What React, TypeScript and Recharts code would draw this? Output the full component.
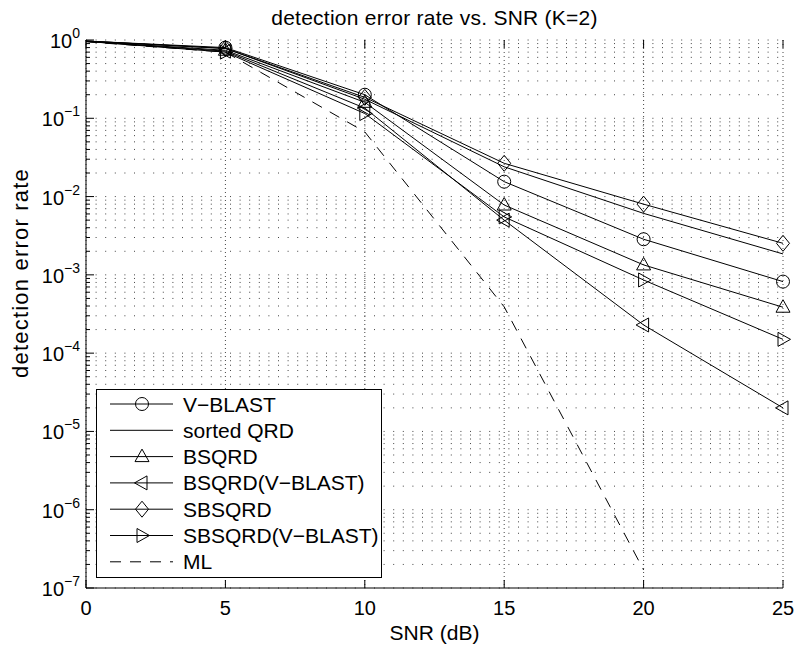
import { LineChart, Line, XAxis, YAxis, CartesianGrid, Legend } from "recharts"

// SNR points (dB)
const snr = [0, 5, 10, 15, 20, 25]

// detection error rate per detector
const vblast = [0.97, 0.8, 0.2, 0.0155, 0.00285, 0.00082]
const sortedQrd = [0.97, 0.78, 0.175, 0.024, 0.0061, 0.00185]
const bsqrd = [0.96, 0.74, 0.16, 0.0078, 0.00134, 0.000386]
const bsqrdVblast = [0.96, 0.72, 0.135, 0.005, 0.000229, 0.00002]
const sbsqrd = [0.97, 0.78, 0.185, 0.0266, 0.008, 0.00253]
const sbsqrdVblast = [0.96, 0.7, 0.115, 0.0055, 0.00086, 0.00015]
const ml = [0.95, 0.7, 0.067, 0.00039, 1.7e-7, null]

const xTicks = [0, 5, 10, 15, 20, 25]
const yDecades = [1e-7, 1e-6, 1e-5, 1e-4, 1e-3, 1e-2, 1e-1, 1]
const yExponents = ["−7", "−6", "−5", "−4", "−3", "−2", "−1", "0"]
const minorSteps = [2, 3, 4, 5, 6, 7, 8, 9]

const yTicks: number[] = []
yDecades.forEach((d, i) => {
  yTicks.push(d)
  if (i < yDecades.length - 1) minorSteps.forEach((m) => yTicks.push(Number((m * d).toPrecision(3))))
})

const series = [
  { key: "vblast", name: "V−BLAST", values: vblast, marker: "circle" },
  { key: "sorted", name: "sorted QRD", values: sortedQrd, marker: "none" },
  { key: "bsqrd", name: "BSQRD", values: bsqrd, marker: "up" },
  { key: "bsqrdV", name: "BSQRD(V−BLAST)", values: bsqrdVblast, marker: "left" },
  { key: "sbsqrd", name: "SBSQRD", values: sbsqrd, marker: "diamond" },
  { key: "sbsqrdV", name: "SBSQRD(V−BLAST)", values: sbsqrdVblast, marker: "right" },
  { key: "ml", name: "ML", values: ml, marker: "none", dashed: true },
]

const data = snr.map((s, i) => {
  const row: any = { snr: s }
  series.forEach((ser) => (row[ser.key] = ser.values[i]))
  return row
})

const FONT = "'Liberation Sans', Arial, Helvetica, sans-serif"

function Marker({ kind, cx, cy }: { kind: string; cx: number; cy: number }) {
  const p = { fill: "none", stroke: "#000", strokeWidth: 1 }
  if (kind === "circle") return <circle cx={cx} cy={cy} r={6.5} {...p} />
  if (kind === "up")
    return <polygon points={`${cx},${cy - 7.5} ${cx + 7},${cy + 5} ${cx - 7},${cy + 5}`} {...p} />
  if (kind === "left")
    return <polygon points={`${cx - 7.5},${cy} ${cx + 5},${cy - 7} ${cx + 5},${cy + 7}`} {...p} />
  if (kind === "right")
    return <polygon points={`${cx + 7.5},${cy} ${cx - 5},${cy - 7} ${cx - 5},${cy + 7}`} {...p} />
  if (kind === "diamond")
    return <polygon points={`${cx},${cy - 8} ${cx + 6.5},${cy} ${cx},${cy + 8} ${cx - 6.5},${cy}`} {...p} />
  return null
}

const isMajor = (v: number) => Math.abs(Math.log10(v) - Math.round(Math.log10(v))) < 1e-6

function LeftTick(props: any) {
  const { x, y, payload } = props
  const major = isMajor(payload.value)
  const idx = yDecades.findIndex((d) => Math.abs(Math.log10(d) - Math.log10(payload.value)) < 1e-6)
  return (
    <g>
      <line x1={x} x2={x + (major ? 8 : 4)} y1={y} y2={y} stroke="#000" />
      {major && idx >= 0 && (
        <text x={x - 6} y={y + 8} textAnchor="end" fontFamily={FONT} fontSize={20} fill="#000">
          <tspan>10</tspan>
          <tspan dy={-10} fontSize={14}>{yExponents[idx]}</tspan>
        </text>
      )}
    </g>
  )
}

function RightTick(props: any) {
  const { x, y, payload } = props
  const major = isMajor(payload.value)
  return <line x1={x} x2={x - (major ? 8 : 4)} y1={y} y2={y} stroke="#000" />
}

function BottomTick(props: any) {
  const { x, y, payload } = props
  return (
    <g>
      <line x1={x} x2={x} y1={y} y2={y - 8} stroke="#000" />
      <line x1={x} x2={x} y1={y - 548} y2={y - 540} stroke="#000" />
      <text x={x} y={y + 27} textAnchor="middle" fontFamily={FONT} fontSize={20} fill="#000">
        {payload.value}
      </text>
    </g>
  )
}

function LegendBox() {
  const rowH = 26.3
  return (
    <div style={{ width: 286, height: 189, border: "1px solid #000", background: "#fff", boxSizing: "border-box" }}>
      <svg width={284} height={187}>
        {series.map((s, i) => {
          const cy = 14 + i * rowH
          return (
            <g key={s.key}>
              <line x1={13} x2={76} y1={cy} y2={cy} stroke="#000" strokeDasharray={s.dashed ? "11 9" : undefined} />
              <Marker kind={s.marker} cx={45} cy={cy} />
              <text x={86} y={cy + 7.5} fontFamily={FONT} fontSize={21} fill="#000">
                {s.name}
              </text>
            </g>
          )
        })}
      </svg>
    </div>
  )
}

export default function App() {
  return (
    <div style={{ position: "absolute", left: 0, top: 0, background: "#fff" }}>
      <LineChart width={796} height={648} data={data} margin={{ top: 40, right: 13, bottom: 30, left: 26 }}>
        <CartesianGrid vertical={false} stroke="#444" strokeDasharray="1 8.6" />
        <CartesianGrid horizontal={false} stroke="#444" strokeDasharray="1 3" />
        <XAxis
          dataKey="snr"
          type="number"
          domain={[0, 25]}
          ticks={xTicks}
          interval={0}
          height={30}
          tickSize={0}
          tickMargin={0}
          tickLine={false}
          axisLine={{ stroke: "#000" }}
          tick={<BottomTick />}
          label={({ viewBox }: any) => (
            <g>
              <text x={viewBox.x + viewBox.width / 2} y={viewBox.y + 52} textAnchor="middle" fontFamily={FONT} fontSize={21} fill="#000">
                SNR (dB)
              </text>
              <text
                x={viewBox.x + viewBox.width / 2}
                y={25}
                textAnchor="middle"
                fontFamily={FONT}
                fontSize={21}
                letterSpacing={0.25}
                fill="#000"
              >
                detection error rate vs. SNR (K=2)
              </text>
            </g>
          )}
        />
        <XAxis
          xAxisId="top"
          orientation="top"
          dataKey="snr"
          type="number"
          domain={[0, 25]}
          ticks={xTicks}
          height={0}
          tick={false}
          tickLine={false}
          axisLine={{ stroke: "#000" }}
        />
        <YAxis
          type="number"
          scale="log"
          domain={[1e-7, 1]}
          ticks={yTicks}
          interval={0}
          width={60}
          tickSize={0}
          tickMargin={0}
          tickLine={false}
          axisLine={{ stroke: "#000" }}
          tick={<LeftTick />}
          label={({ viewBox }: any) => (
            <text
              x={28}
              y={viewBox.y + 233}
              transform={`rotate(-90 28 ${viewBox.y + 233})`}
              textAnchor="middle"
              fontFamily={FONT}
              fontSize={22}
              letterSpacing={1.2}
              fill="#000"
            >
              detection error rate
            </text>
          )}
        />
        <YAxis
          yAxisId="right"
          orientation="right"
          type="number"
          scale="log"
          domain={[1e-7, 1]}
          ticks={yTicks}
          interval={0}
          width={0}
          tickSize={0}
          tickMargin={0}
          tickLine={false}
          axisLine={{ stroke: "#000" }}
          tick={<RightTick />}
        />
        {series.map((s) => (
          <Line
            key={s.key}
            dataKey={s.key}
            name={s.name}
            stroke="#000"
            strokeWidth={1}
            strokeDasharray={s.dashed ? "11 9" : undefined}
            isAnimationActive={false}
            activeDot={false}
            dot={
              s.marker === "none"
                ? false
                : (p: any) =>
                    p.cy == null || p.index === 0 ? (
                      <g key={p.index} />
                    ) : (
                      <Marker key={p.index} kind={s.marker} cx={p.cx} cy={p.cy} />
                    )
            }
          />
        ))}
        <Legend
          layout="horizontal"
          verticalAlign="middle"
          align="center"
          wrapperStyle={{ left: 96, top: 389, width: 286, height: 189 }}
          content={() => <LegendBox />}
        />
      </LineChart>
    </div>
  )
}
